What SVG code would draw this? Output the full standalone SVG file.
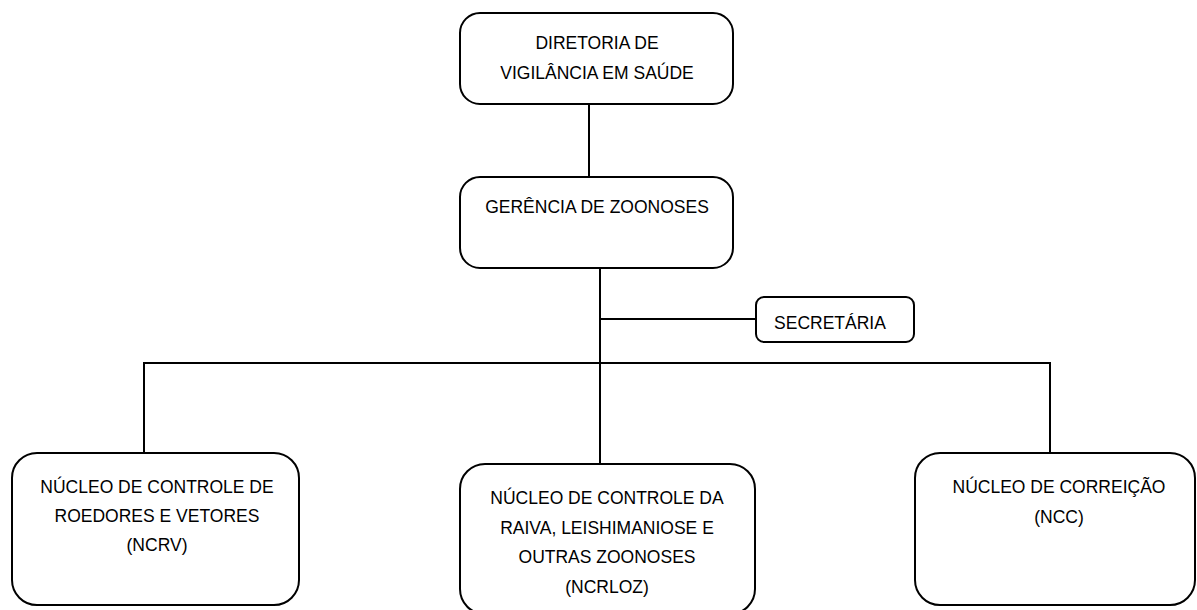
<svg xmlns="http://www.w3.org/2000/svg" width="1197" height="610" viewBox="0 0 1197 610">
<style>
.box{fill:#fff;stroke:#000;stroke-width:2}
.ln{stroke:#000;stroke-width:2;fill:none}
text{font-family:"Liberation Sans",Arial,sans-serif;font-size:17.5px;fill:#000;text-anchor:middle}
</style>
<rect width="1197" height="610" fill="#fff"/>
<g id="connectors">
<line class="ln" x1="589" y1="104" x2="589" y2="177"/>
<line class="ln" x1="600" y1="268" x2="600" y2="464"/>
<line class="ln" x1="600" y1="319" x2="756" y2="319"/>
<polyline class="ln" points="144,453 144,363 1050,363 1050,453"/>
</g>
<g id="diretoria">
<rect class="box" x="460" y="13" width="273" height="91" rx="20"/>
<text x="597" y="49">DIRETORIA DE</text>
<text x="597" y="79">VIGILÂNCIA EM SAÚDE</text>
</g>
<g id="gerencia">
<rect class="box" x="460" y="177" width="273" height="91" rx="20"/>
<text x="597" y="213">GERÊNCIA DE ZOONOSES</text>
</g>
<g id="secretaria">
<rect class="box" x="756" y="297" width="158" height="45" rx="8"/>
<text x="830" y="329">SECRETÁRIA</text>
</g>
<g id="ncrv">
<rect class="box" x="12" y="453" width="287" height="152" rx="25"/>
<text x="157" y="493">NÚCLEO DE CONTROLE DE</text>
<text x="157" y="522">ROEDORES E VETORES</text>
<text x="157" y="551">(NCRV)</text>
</g>
<g id="ncrloz">
<rect class="box" x="460" y="464" width="295" height="150" rx="25"/>
<text x="607" y="504">NÚCLEO DE CONTROLE DA</text>
<text x="607" y="534">RAIVA, LEISHIMANIOSE E</text>
<text x="607" y="563">OUTRAS ZOONOSES</text>
<text x="607" y="593">(NCRLOZ)</text>
</g>
<g id="ncc">
<rect class="box" x="915" y="453" width="280" height="152" rx="25"/>
<text x="1059" y="493">NÚCLEO DE CORREIÇÃO</text>
<text x="1059" y="523">(NCC)</text>
</g>
</svg>
